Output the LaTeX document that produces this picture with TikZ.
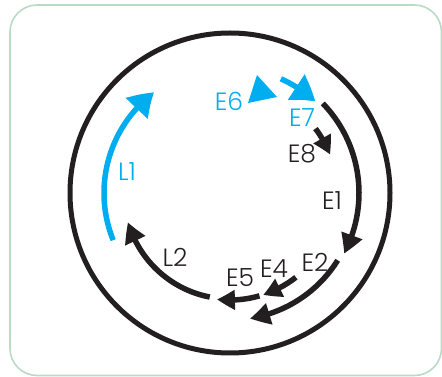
\documentclass[tikz,border=0pt]{standalone}
\usepackage{fontspec}
\setmainfont{Poppins}[UprightFont=* Light]
\usetikzlibrary{arrows.meta,bending}
\definecolor{cyc}{HTML}{00AEEF}
\definecolor{ink}{HTML}{231F20}
\definecolor{frm}{HTML}{B9DAC5}
\begin{document}
\begin{tikzpicture}[x=1pt,y=1pt,font=\fontsize{25}{25}\selectfont]
\tikzstyle{frame}=[draw=frm,line width=1.6pt,rounded corners=27pt];
\tikzstyle{ring}=[draw=ink,line width=5pt];
\tikzstyle{stage}=[draw=ink,line width=5.5pt,-{Triangle[length=20pt,width=21pt,bend]}];
\tikzstyle{small}=[draw=ink,line width=5.5pt,-{Triangle[length=18pt,width=19pt,bend]}];
\tikzstyle{larva}=[draw=cyc,line width=5.5pt,-{Triangle[length=24pt,width=29pt,bend]}];
\tikzstyle{lbl}=[inner sep=0pt,text=ink];
\tikzstyle{blbl}=[inner sep=0pt,text=cyc];
\useasboundingbox (0,0) rectangle (442,377);
\draw [frame] (10,1.5) rectangle (441.5,372);
\coordinate (c) at (230,184);
\draw [ring] (c) circle[radius=160pt];
% labels
\node [blbl] (e6) at (229,276) {E6};
\node [blbl] (e7) at (302,259) {E7};
\node [lbl] (e8) at (302,223) {E8};
\node [lbl] (e1) at (332,176) {E1};
\node [lbl] (e2) at (315,115) {E2};
\node [lbl] (e4) at (274,108) {E4};
\node [lbl] (e5) at (240,99) {E5};
\node [lbl] (l2) at (175,120) {L2};
\node [blbl] (l1) at (127,205) {L1};
% outer track
\draw [larva] (c) ++(202:126pt) arc[start angle=202,end angle=127,radius=126pt];
\draw [larva] (c) ++(66:125pt) arc[start angle=66,end angle=47,radius=125pt];
\draw [stage] (c) ++(44:129pt) arc[start angle=44,end angle=-28,radius=129pt];
\draw [stage] (c) ++(-32:127pt) arc[start angle=-32,end angle=-81,radius=127pt];
% inner track
\fill [cyc] (257,302) -- (277,280) -- (248,274) -- cycle;
\draw [small] (c) ++(37:107pt) arc[start angle=37,end angle=21,radius=107pt];
\draw [small] (c) ++(-52:107pt) arc[start angle=-52,end angle=-72,radius=107pt];
\draw [small] (c) ++(-74:107pt) arc[start angle=-74,end angle=-97,radius=107pt];
\draw [stage] (c) ++(-101:106pt) arc[start angle=-101,end angle=-164,radius=106pt];
\end{tikzpicture}
\end{document}
